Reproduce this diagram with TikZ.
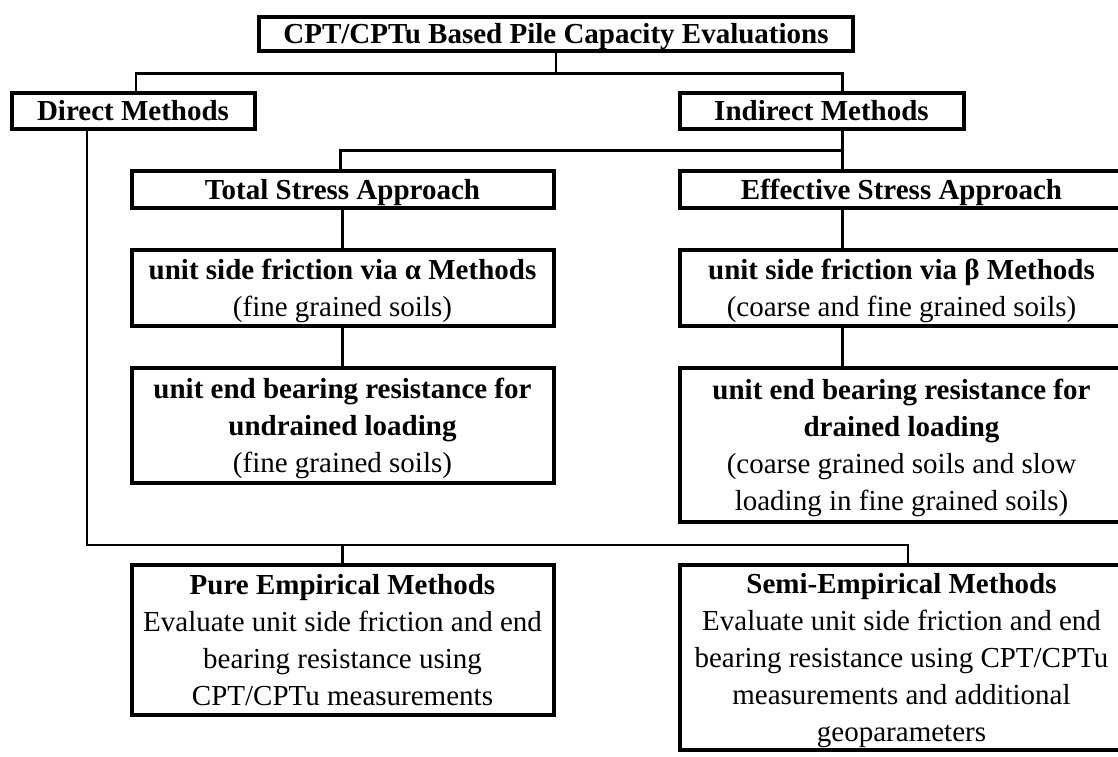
\documentclass[tikz,border=0pt]{standalone}
\usepackage{fontspec}
\setmainfont{Liberation Serif}
\usetikzlibrary{calc}

\begin{document}
\begin{tikzpicture}[x=1pt,y=-1pt,
    box/.style={draw,line width=4pt,align=center,inner sep=0pt,text depth=0pt,font=\fontsize{29}{37}\selectfont},
    conn/.style={line width=2.8pt}]
  \useasboundingbox (0,0) rectangle (1118,756);
  % boxes
  \node[box,minimum width=594pt,minimum height=34pt] (top) at (556,33.5) {\textbf{CPT/CPTu Based Pile Capacity Evaluations}};
  \node[box,minimum width=243pt,minimum height=36pt] (direct) at (133,110.5) {\textbf{Direct Methods}};
  \node[box,minimum width=284pt,minimum height=36pt] (indirect) at (821.5,110.5) {\textbf{Indirect Methods}};
  \node[box,minimum width=422pt,minimum height=37pt] (total) at (342.5,189) {\textbf{Total Stress Approach}};
  \node[box,minimum width=444pt,minimum height=37pt] (effective) at (901.5,189) {\textbf{Effective Stress Approach}};
  \node[box,minimum width=422pt,minimum height=76pt] (alpha) at (342.5,287.5) {\textbf{unit side friction via α Methods}\\(fine grained soils)};
  \node[box,minimum width=444pt,minimum height=76pt] (beta) at (901.5,287.5) {\textbf{unit side friction via β Methods}\\(coarse and fine grained soils)};
  \node[box,minimum width=422pt,minimum height=115pt] (undrained) at (342.5,425) {\textbf{unit end bearing resistance for}\\\textbf{undrained loading}\\(fine grained soils)};
  \node[box,minimum width=444pt,minimum height=154pt] (drained) at (901.5,444.5) {\textbf{unit end bearing resistance for}\\\textbf{drained loading}\\(coarse grained soils and slow\\loading in fine grained soils)};
  \node[box,minimum width=422pt,minimum height=150pt] (pure) at (342.5,639.5) {\textbf{Pure Empirical Methods}\\Evaluate unit side friction and end\\bearing resistance using\\CPT/CPTu measurements};
  \node[box,minimum width=444pt,minimum height=185pt] (semi) at (901.5,657) {\textbf{Semi-Empirical Methods}\\Evaluate unit side friction and end\\bearing resistance using CPT/CPTu\\measurements and additional\\geoparameters};
  % connectors
  \draw[conn] (top.south) -- ++(0,21) coordinate (t1);
  \draw[conn] (t1) -| ($(direct.north)+(3,0)$);
  \draw[conn] (t1) -| ($(indirect.north)+(21,0)$);
  \draw[conn] ($(indirect.south)+(21,0)$) -- ++(0,20) coordinate (t2) -| ($(total.north)+(-2,0)$);
  \draw[conn] (t2) -- (t2 |- effective.north);
  \draw[conn] (total) -- (alpha);
  \draw[conn] (alpha) -- (undrained);
  \draw[conn] (t2 |- effective.south) -- (t2 |- beta.north);
  \draw[conn] (t2 |- beta.south) -- (t2 |- drained.north);
  \coordinate (t3) at (908,545);
  \draw[conn] ($(direct.south)+(-46,0)$) |- (t3) -- (t3 |- semi.north);
  \draw[conn] (pure.north) -- (pure.north |- t3);
\end{tikzpicture}
\end{document}
